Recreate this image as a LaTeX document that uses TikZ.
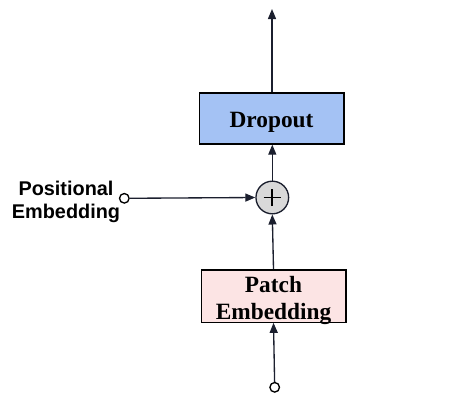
\documentclass[tikz,border=0pt]{standalone}
\usepackage{fontspec}
\setmainfont{Liberation Serif}
\newfontfamily\labelsans{Liberation Sans}
\usetikzlibrary{arrows.meta}
\definecolor{linec}{HTML}{1B1F2E}
\definecolor{dropfill}{HTML}{A4C2F4}
\definecolor{patchfill}{HTML}{FCE4E4}
\definecolor{sumfill}{HTML}{D9D9D9}
\begin{document}
\begin{tikzpicture}[x=0.75pt,y=-0.75pt,
  flow/.style={draw=linec,line width=1pt,-{Triangle[length=7.5pt,width=6pt]}},
  blockbox/.style={draw=black,line width=1pt,minimum width=108.5pt,inner sep=0pt},
  blocktext/.style={align=center,inner sep=0pt,font=\fontsize{17.5}{20.6}\selectfont\bfseries},
  port/.style={circle,draw=black,fill=white,line width=1pt,minimum size=7.2pt,inner sep=0pt},
  sumnode/.style={circle,draw=linec,fill=sumfill,line width=1pt,minimum size=24.5pt,inner sep=0pt}]
\useasboundingbox (0,0) rectangle (457,401);
\node[blockbox,fill=dropfill,minimum height=38.25pt] (drop) at (271.5,118.5) {};
\node[blocktext,yshift=-3pt] (droptext) at (drop.center) {Dropout};
\node[blockbox,fill=patchfill,minimum height=39.25pt] (patch) at (273.5,296) {};
\node[blocktext,yshift=-3.5pt] (patchtext) at (patch.center) {Patch\\Embedding};
\node[sumnode] (sum) at (272.3,197.5) {};
\draw[line width=1.4pt] ([xshift=-6.5pt]sum.center) -- ([xshift=6.5pt]sum.center)
  ([yshift=-6.5pt]sum.center) -- ([yshift=6.5pt]sum.center);
\node[port] (pin) at (124.3,198.3) {};
\node[port] (inp) at (274.7,387.3) {};
\coordinate (out) at (272,9);
\node[align=center,font=\labelsans\fontsize{14.9}{17.6}\selectfont\bfseries] (plabel) at (66,202) {Positional\\Embedding};
\draw[flow] (inp) -- (patch.south);
\draw[flow] (patch.north) -- (sum.south);
\draw[flow] (pin) -- (sum.west);
\draw[flow] (sum.north) -- (drop.south -| sum.north);
\draw[flow] (drop.north -| out) -- (out);
\end{tikzpicture}
\end{document}
